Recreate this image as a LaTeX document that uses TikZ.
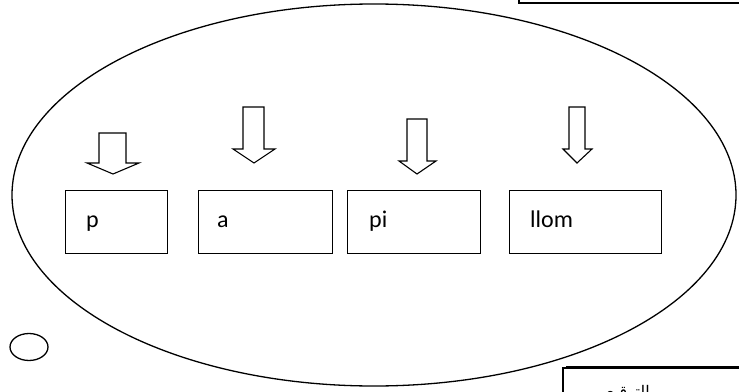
\documentclass[tikz,border=0pt]{standalone}
\usepackage{fontspec}
\setmainfont{Carlito}
\newfontfamily\arabicfont[Script=Arabic]{DejaVu Sans}
\TeXXeTstate=1
\tikzset{
  outl/.style={draw=black, line width=1.3pt},
  wordbox/.style={draw=black, line width=1.2pt},
  blockarrow/.style={draw=black, line width=1.1pt, fill=white, line join=miter},
  wordtext/.style={font=\fontsize{24}{28}\selectfont, anchor=base west, inner sep=0pt}
}
\begin{document}
\begin{tikzpicture}[x=1pt,y=-1pt]
\useasboundingbox (0,0) rectangle (739,391);
\begin{scope}
\clip (0,0) rectangle (739,391);
% top-right box
\draw[outl] (519,-20) rectangle (760,3);
% big ellipse
\draw[outl] (374,195) ellipse [x radius=362, y radius=191];
% bottom-right box
\draw[outl] (563,368) rectangle (760,420);
\draw[line width=1pt] (566,366.5) -- (760,366.5);
\node[anchor=base east, inner sep=0pt, font=\arabicfont\fontsize{16}{18}\selectfont] (sig) at (650,397) {\beginR التوقيع\endR};
\end{scope}
% small ellipse
\draw[outl] (29,347) ellipse [x radius=19, y radius=13.5];
% word boxes
\node[wordbox, minimum width=102pt, minimum height=63pt, anchor=north west, inner sep=0pt] (b1) at (65,190) {};
\node[wordbox, minimum width=134pt, minimum height=63pt, anchor=north west, inner sep=0pt] (b2) at (198,190) {};
\node[wordbox, minimum width=133pt, minimum height=63pt, anchor=north west, inner sep=0pt] (b3) at (347,190) {};
\node[wordbox, minimum width=152pt, minimum height=63pt, anchor=north west, inner sep=0pt] (b4) at (509,190) {};
% texts
\node[wordtext] (t1) at (86,227) {p};
\node[wordtext] (t2) at (217,227) {a};
\node[wordtext] (t3) at (369,227) {pi};
\node[wordtext] (t4) at (530,227) {llom};
% block arrows
\draw[blockarrow] (99,133) -- (126,133) -- (126,163) -- (139,163) -- (113,174) -- (87,163) -- (99,163) -- cycle;
\draw[blockarrow] (243,107) -- (264,107) -- (264,149) -- (275,149) -- (254,163) -- (233,149) -- (243,149) -- cycle;
\draw[blockarrow] (407,119) -- (427,119) -- (427,161) -- (436,161) -- (417,174) -- (399,161) -- (407,161) -- cycle;
\draw[blockarrow] (569,107) -- (585,107) -- (585,149) -- (592,149) -- (577,163) -- (563,149) -- (569,149) -- cycle;
\end{tikzpicture}
\end{document}
